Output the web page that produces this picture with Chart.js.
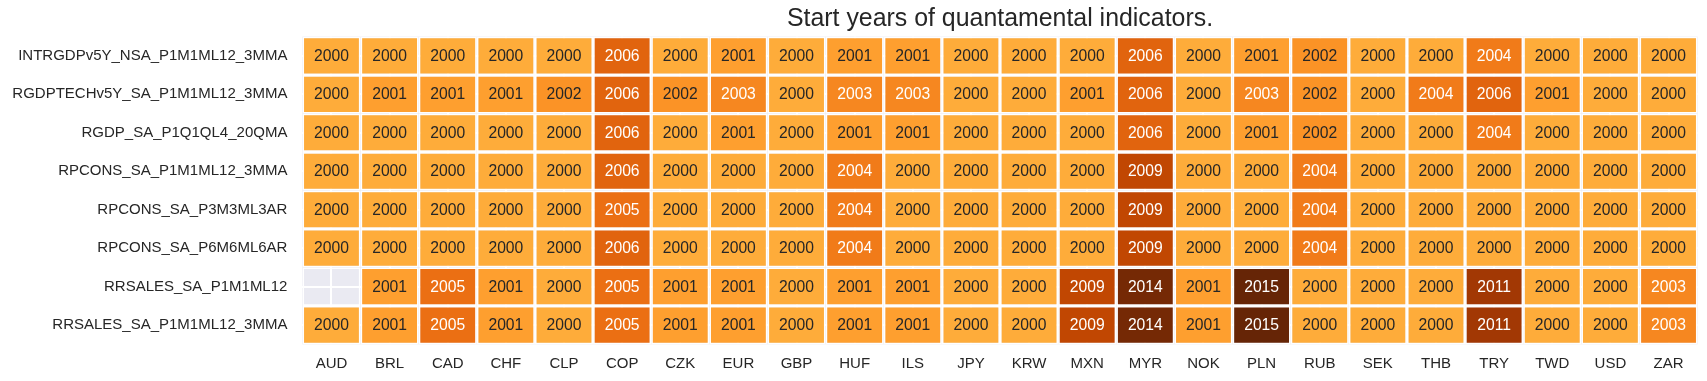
<!DOCTYPE html>
<html>
<head>
<meta charset="utf-8">
<script src="https://cdn.jsdelivr.net/npm/chart.js@4"></script>
<style>
  html, body { margin: 0; padding: 0; background: #ffffff; }
  #wrap { width: 1707px; height: 381px; }
</style>
</head>
<body>
<div id="wrap"><canvas id="c" width="1707" height="381"></canvas></div>
<script>
// ---- data ----
const currencies = ["AUD","BRL","CAD","CHF","CLP","COP","CZK","EUR","GBP","HUF","ILS","JPY",
                    "KRW","MXN","MYR","NOK","PLN","RUB","SEK","THB","TRY","TWD","USD","ZAR"];
const indicators = ["INTRGDPv5Y_NSA_P1M1ML12_3MMA","RGDPTECHv5Y_SA_P1M1ML12_3MMA","RGDP_SA_P1Q1QL4_20QMA",
                    "RPCONS_SA_P1M1ML12_3MMA","RPCONS_SA_P3M3ML3AR","RPCONS_SA_P6M6ML6AR",
                    "RRSALES_SA_P1M1ML12","RRSALES_SA_P1M1ML12_3MMA"];
const intrgdp      = [2000,2000,2000,2000,2000,2006,2000,2001,2000,2001,2001,2000,2000,2000,2006,2000,2001,2002,2000,2000,2004,2000,2000,2000];
const rgdptech     = [2000,2001,2001,2001,2002,2006,2002,2003,2000,2003,2003,2000,2000,2001,2006,2000,2003,2002,2000,2004,2006,2001,2000,2000];
const rgdp         = [2000,2000,2000,2000,2000,2006,2000,2001,2000,2001,2001,2000,2000,2000,2006,2000,2001,2002,2000,2000,2004,2000,2000,2000];
const rpcons1m     = [2000,2000,2000,2000,2000,2006,2000,2000,2000,2004,2000,2000,2000,2000,2009,2000,2000,2004,2000,2000,2000,2000,2000,2000];
const rpcons3m     = [2000,2000,2000,2000,2000,2005,2000,2000,2000,2004,2000,2000,2000,2000,2009,2000,2000,2004,2000,2000,2000,2000,2000,2000];
const rpcons6m     = [2000,2000,2000,2000,2000,2006,2000,2000,2000,2004,2000,2000,2000,2000,2009,2000,2000,2004,2000,2000,2000,2000,2000,2000];
const rrsales      = [null,2001,2005,2001,2000,2005,2001,2001,2000,2001,2001,2000,2000,2009,2014,2001,2015,2000,2000,2000,2011,2000,2000,2003];
const rrsales3mma  = [2000,2001,2005,2001,2000,2005,2001,2001,2000,2001,2001,2000,2000,2009,2014,2001,2015,2000,2000,2000,2011,2000,2000,2003];
const rows = [intrgdp, rgdptech, rgdp, rpcons1m, rpcons3m, rpcons6m, rrsales, rrsales3mma];
const titleText = "Start years of quantamental indicators.";

// ---- colour map (YlOrBr) ----
const VMIN = 1988, VMAX = 2015;
const stops = ["#ffffe5","#fff7bc","#fee391","#fec44f","#fe9929","#ec7014","#cc4c02","#993404","#662506"]
  .map(h => [parseInt(h.slice(1,3),16), parseInt(h.slice(3,5),16), parseInt(h.slice(5,7),16)]);
function cmap(v) {
  let t = (v - VMIN) / (VMAX - VMIN);
  t = Math.max(0, Math.min(1, t));
  const p = t * (stops.length - 1);
  const i = Math.min(stops.length - 2, Math.floor(p));
  const f = p - i;
  return stops[i].map((c, k) => Math.round(c + (stops[i+1][k] - c) * f));
}
function lum(rgb) {
  const l = rgb.map(c => { c /= 255; return c <= 0.03928 ? c / 12.92 : Math.pow((c + 0.055) / 1.055, 2.4); });
  return 0.2126 * l[0] + 0.7152 * l[1] + 0.0722 * l[2];
}
const rgbStr = a => `rgb(${a[0]},${a[1]},${a[2]})`;

const FONT = "'Liberation Sans', Arial, Helvetica, sans-serif";
const TEXT = "#262626";

const datasets = rows.map((vals, r) => ({
  label: indicators[r],
  data: vals.map(() => [r - 0.5, r + 0.5]),
  years: vals,
  backgroundColor: vals.map(v => v == null ? "rgba(0,0,0,0)" : rgbStr(cmap(v))),
  borderColor: "#ffffff",
  borderWidth: 1.65,
  borderSkipped: false,
  grouped: false,
  categoryPercentage: 1.0,
  barPercentage: 1.0,
  inflateAmount: 0
}));

const bgPlugin = {
  id: "bg",
  beforeDraw(chart) {
    const {ctx, chartArea: a} = chart;
    ctx.save();
    ctx.fillStyle = "#eaeaf2";
    ctx.fillRect(a.left, a.top, a.right - a.left, a.bottom - a.top);
    ctx.restore();
  }
};

const annotPlugin = {
  id: "annot",
  afterDatasetsDraw(chart) {
    const ctx = chart.ctx;
    ctx.save();
    ctx.font = "15.7px " + FONT;
    ctx.textAlign = "center";
    ctx.textBaseline = "middle";
    chart.data.datasets.forEach((ds, di) => {
      const meta = chart.getDatasetMeta(di);
      meta.data.forEach((el, j) => {
        const v = ds.years[j];
        if (v == null) return;
        const c = el.getCenterPoint();
        ctx.fillStyle = lum(cmap(v)) > 0.408 ? TEXT : "#ffffff";
        ctx.fillText(String(v), c.x, c.y + 0.5);
      });
    });
    ctx.restore();
  }
};

new Chart(document.getElementById("c"), {
  type: "bar",
  data: { labels: currencies, datasets },
  plugins: [bgPlugin, annotPlugin],
  options: {
    responsive: false,
    animation: false,
    devicePixelRatio: 1,
    layout: { padding: { left: 0, right: 9.4, top: 0, bottom: 0 } },
    plugins: {
      legend: { display: false },
      tooltip: { enabled: false },
      title: {
        display: true,
        text: titleText,
        fullSize: false,
        color: TEXT,
        font: { family: FONT, size: 24.9, weight: "normal" },
        padding: { top: 3.9, bottom: 2.8 }
      }
    },
    scales: {
      x: {
        type: "category",
        offset: true,
        grid: { display: true, offset: false, color: "#ffffff", lineWidth: 2, drawTicks: false },
        border: { display: false },
        ticks: { color: TEXT, font: { family: FONT, size: 15 }, padding: 10.5, maxRotation: 0, autoSkip: false },
        afterFit(s) { s.height = 36.6; }
      },
      y: {
        type: "linear",
        min: -0.5,
        max: 7.5,
        reverse: true,
        grid: { display: true, color: "#ffffff", lineWidth: 2, drawTicks: false },
        border: { display: false },
        afterBuildTicks(s) { s.ticks = indicators.map((_, i) => ({ value: i })); },
        ticks: {
          color: TEXT,
          font: { family: FONT, size: 15 },
          padding: 15,
          autoSkip: false,
          callback: (v) => indicators[v] ?? ""
        },
        afterFit(s) { s.width = 302.4; }
      }
    }
  }
});
</script>
</body>
</html>
